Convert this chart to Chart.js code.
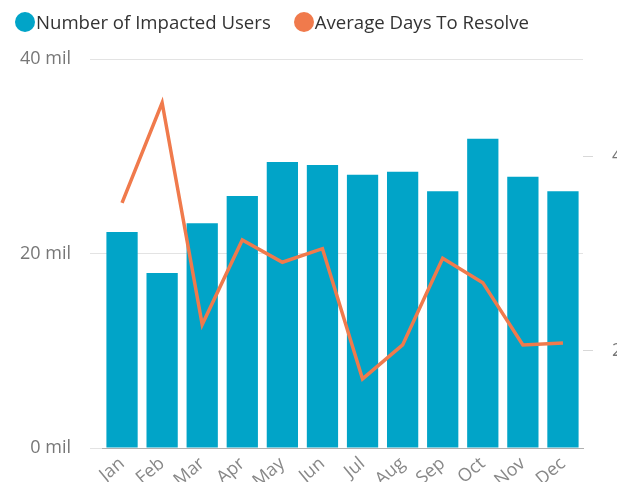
<!DOCTYPE html>
<html>
<head>
<meta charset="utf-8">
<script src="https://cdn.jsdelivr.net/npm/chart.js@4"></script>
<style>
  html, body { margin: 0; padding: 0; background: #fff; overflow: hidden; }
  .wrap { position: relative; width: 617px; height: 482px; }
  .legend { position: absolute; left: 15px; top: 9px; font-family: "Open Sans", sans-serif; font-size: 18.6px; color: #333; display: flex; align-items: center; }
  .legend span { display: inline-flex; align-items: center; margin-right: 23px; }
  .legend i { display: inline-block; width: 20px; height: 20px; border-radius: 50%; margin-right: 1px; }
</style>
</head>
<body>
<div class="wrap">
  <canvas id="comboChart" width="617" height="482"></canvas>
  <div class="legend">
    <span><i style="background:#01a4c8"></i>Number of Impacted Users</span>
    <span><i style="background:#f07a4c"></i>Average Days To Resolve</span>
  </div>
</div>
<script>
const months = ["Jan", "Feb", "Mar", "Apr", "May", "Jun", "Jul", "Aug", "Sep", "Oct", "Nov", "Dec"];
const impactedUsers = [22.2, 18.0, 23.1, 25.9, 29.4, 29.1, 28.1, 28.4, 26.4, 31.8, 27.9, 26.4];
const avgDays = [3.52, 4.55, 2.27, 3.14, 2.91, 3.05, 1.71, 2.06, 2.95, 2.70, 2.06, 2.08];
const userTicks = [0, 20, 40];
const dayTicks = [2, 4];

const ctx = document.getElementById("comboChart").getContext("2d");
new Chart(ctx, {
  data: {
    labels: months,
    datasets: [
      {
        type: "line",
        label: "Average Days To Resolve",
        data: avgDays,
        yAxisID: "y1",
        borderColor: "#f07a4c",
        borderWidth: 3.5,
        pointRadius: 0,
        tension: 0,
        order: 0,
      },
      {
        type: "bar",
        label: "Number of Impacted Users",
        data: impactedUsers,
        yAxisID: "y",
        backgroundColor: "#01a4c8",
        barPercentage: 0.78,
        categoryPercentage: 1,
        order: 1,
      },
    ],
  },
  options: {
    responsive: false,
    animation: false,
    layout: { padding: { top: 59, left: 0, right: 0, bottom: 0 } },
    plugins: {
      legend: { display: false },
      tooltip: { enabled: false },
    },
    scales: {
      x: {
        grid: { display: false, drawTicks: false },
        border: { display: true, color: "#b0b0b0", width: 1 },
        ticks: {
          color: "#888",
          font: { family: "Open Sans", size: 18 },
          minRotation: 40,
          maxRotation: 40,
          padding: 5,
        },
        afterFit: (axis) => { axis.height = 34; },
      },
      y: {
        position: "left",
        min: 0,
        max: 40,
        afterBuildTicks: (axis) => { axis.ticks = userTicks.map((v) => ({ value: v })); },
        grid: { color: "#e3e3e3", tickLength: 12, tickColor: "#e3e3e3" },
        border: { display: false },
        ticks: {
          color: "#777",
          font: { family: "Open Sans", size: 18 },
          padding: 19,
          callback: (v) => v + " mil",
        },
        afterFit: (axis) => { axis.width = 102; },
      },
      y1: {
        position: "right",
        min: 1,
        max: 5,
        afterBuildTicks: (axis) => { axis.ticks = dayTicks.map((v) => ({ value: v })); },
        grid: { drawOnChartArea: false, tickLength: 10, tickColor: "#d8d8d8" },
        border: { display: false },
        ticks: {
          color: "#777",
          font: { family: "Open Sans", size: 18 },
          padding: 19,
        },
        afterFit: (axis) => { axis.width = 34; },
      },
    },
  },
});
</script>
</body>
</html>
